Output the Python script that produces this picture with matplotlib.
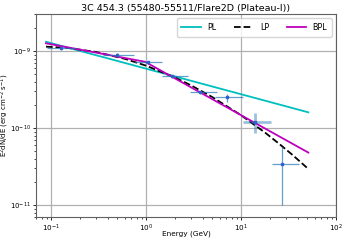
import matplotlib
matplotlib.use("Agg")
import matplotlib.pyplot as plt
from matplotlib.ticker import NullFormatter, LogLocator
import numpy as np

# Data points (GeV, erg cm^-2 s^-1)
energy = [0.129, 0.495, 1.05, 1.87, 3.70, 7.18, 14.0, 27.2]
e_lo = [0.0908, 0.35, 0.748, 1.46, 2.90, 5.32, 10.6, 21.0]
e_hi = [0.183, 0.748, 1.46, 2.79, 5.55, 10.5, 20.7, 40.8]
flux = [1.09e-9, 8.9e-10, 7.1e-10, 4.7e-10, 2.9e-10, 2.5e-10, 1.19e-10, 3.4e-11]
flux_lo = [1.03e-9, 8.5e-10, 6.8e-10, 4.45e-10, 2.75e-10, 2.2e-10, 8.7e-11, 1.0e-11]
flux_hi = [1.15e-9, 9.3e-10, 7.4e-10, 4.95e-10, 3.05e-10, 2.8e-10, 1.55e-10, 5.7e-11]

# Model curves
pl_e = [0.0886, 51.2]
pl_f = [1.32e-9, 1.6e-10]
lp_e = [0.0886, 0.15, 0.3, 0.6, 1.0, 2.0, 3.0, 5.0, 10.0, 18.0, 25.0, 35.0, 51.2]
lp_f = [1.14e-9, 1.10e-9, 9.7e-10, 7.92e-10, 6.46e-10, 4.55e-10, 3.57e-10, 2.52e-10,
        1.47e-10, 8.69e-11, 6.3e-11, 4.46e-11, 2.94e-11]
bpl_e = [0.0886, 0.976, 51.2]
bpl_f = [1.26e-9, 7.26e-10, 4.8e-11]

xticks = [0.1, 1, 10, 100]
yticks = [1e-11, 1e-10, 1e-9]

title = "3C 454.3 (55480-55511/Flare2D (Plateau-I))"

fig = plt.figure(figsize=(3.46, 2.45), dpi=100)
ax = fig.add_axes([0.104, 0.114, 0.867, 0.829])

ax.plot(pl_e, pl_f, color="c", lw=1.3, label="PL")
ax.plot(lp_e, lp_f, color="k", lw=1.3, ls="--", label="LP")
ax.plot(bpl_e, bpl_f, color="m", lw=1.3, label="BPL")

e = np.array(energy)
f = np.array(flux)
xerr = [e - np.array(e_lo), np.array(e_hi) - e]
yerr = [f - np.array(flux_lo), np.array(flux_hi) - f]
for i in range(len(e)):
    lw = 2.0 if i == 6 else 0.9
    al = 0.45 if i == 6 else 0.7
    ax.errorbar(e[i], f[i], xerr=[[xerr[0][i]], [xerr[1][i]]],
                yerr=[[yerr[0][i]], [yerr[1][i]]], fmt="none",
                ecolor="#1f77b4", elinewidth=lw, alpha=al, capsize=0)
ax.plot(e, f, ls="none", marker="s", ms=1.8, color="#3060d0")

ax.set_xscale("log")
ax.set_yscale("log")
ax.set_xlim(0.0695, 100)
ax.set_ylim(6.98e-12, 3.03e-9)
ax.set_xticks(xticks)
ax.set_yticks(yticks)
ax.xaxis.set_minor_locator(LogLocator(base=10, subs=np.arange(2, 10) * 0.1 * 10, numticks=20))
ax.xaxis.set_minor_formatter(NullFormatter())
ax.yaxis.set_minor_formatter(NullFormatter())
ax.set_xlim(0.0695, 100)
ax.set_ylim(6.98e-12, 3.03e-9)
ax.grid(True, which="major", color="#b0b0b0", lw=0.9)
ax.tick_params(axis="x", labelsize=5.2, pad=1.5)
ax.tick_params(axis="y", labelsize=5.0, pad=1.0)
ax.tick_params(length=2.5, width=0.6)
ax.tick_params(which="minor", length=1.5, width=0.5)
for s in ax.spines.values():
    s.set_color("#606060")
    s.set_linewidth(0.8)

ax.set_title(title, fontsize=6.8, pad=2)
ax.set_xlabel("Energy (GeV)", fontsize=5.3)
ax.set_ylabel("E$^2$dN/dE (erg cm$^{-2}$ s$^{-1}$)", fontsize=5.0)
ax.yaxis.set_label_coords(-0.083, 0.5)
ax.xaxis.set_label_coords(0.5, -0.065)
ax.legend(loc="upper right", ncol=3, fontsize=5.8, frameon=True, handlelength=2.4,
          columnspacing=2.2, borderpad=0.6, fancybox=True)

fig.savefig("out.png", dpi=100)
